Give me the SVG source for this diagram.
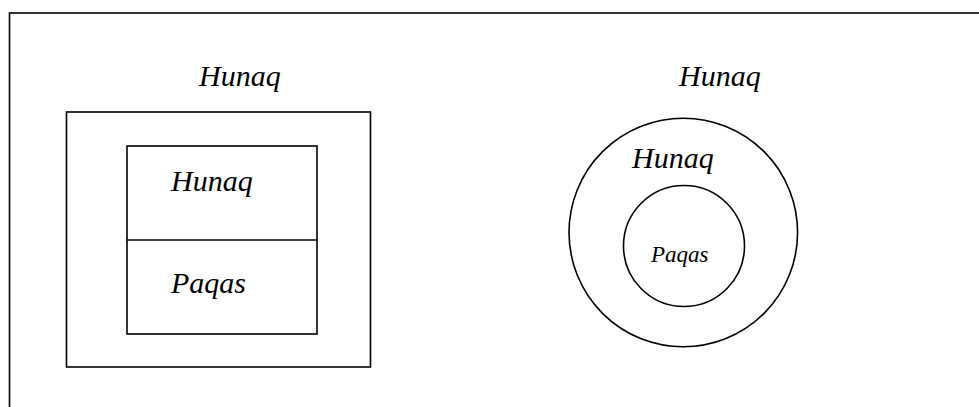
<svg xmlns="http://www.w3.org/2000/svg" width="979" height="407" viewBox="0 0 979 407">
<style>
.s{fill:none;stroke:#000;stroke-width:1.6}
.t{font-family:"Liberation Serif","Times New Roman",serif;font-style:italic;font-size:30px;fill:#000}
.ts{font-size:23px}
</style>
<rect width="979" height="407" fill="#fff"/>
<g id="frame"><rect class="s" x="9.5" y="13" width="1000" height="420"/></g>
<g id="left">
<text class="t" x="199" y="86">Hunaq</text>
<rect class="s" x="66.5" y="112" width="304" height="255"/>
<g id="inner-box">
<rect class="s" x="127" y="146" width="190" height="188"/>
<line class="s" x1="127" y1="240" x2="317" y2="240"/>
<text class="t" x="171" y="191">Hunaq</text>
<text class="t" x="171" y="293">Paqas</text>
</g>
</g>
<g id="right">
<text class="t" x="679" y="86">Hunaq</text>
<circle class="s" cx="683.3" cy="232.5" r="114.3"/>
<text class="t" x="632" y="168">Hunaq</text>
<g id="inner-circle">
<circle class="s" cx="684" cy="246" r="60.5"/>
<text class="t ts" x="651" y="262">Paqas</text>
</g>
</g>
<g id="connectors"></g>
</svg>
